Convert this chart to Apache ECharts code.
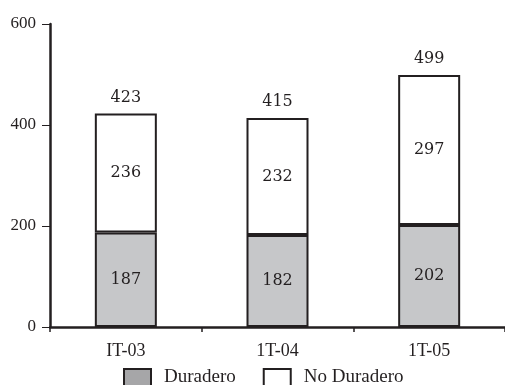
<!DOCTYPE html>
<html>
<head>
<meta charset="utf-8">
<script src="https://cdn.jsdelivr.net/npm/echarts@6/dist/echarts.min.js"></script>
<style>
  html, body { margin: 0; padding: 0; background: #ffffff; }
  #chart { width: 505px; height: 385px; }
</style>
</head>
<body>
<div id="chart"></div>
<script>
// Quarterly values, split into durable and non-durable
const categories = ['IT-03', '1T-04', '1T-05'];
const duradero = [187, 182, 202];
const noDuradero = [236, 232, 297];
// Published totals shown above each stack
const totals = [423, 415, 499];
const yTicks = [0, 200, 400, 600];

const ink = '#231f20';
const font = '"Liberation Serif", "DejaVu Serif", serif';
const valueFont = '"DejaVu Serif", "Liberation Serif", serif';

const chart = echarts.init(document.getElementById('chart'), null, { renderer: 'canvas' });

chart.setOption({
  animation: false,
  backgroundColor: '#ffffff',
  textStyle: { fontFamily: font, color: ink },
  grid: { left: 50, right: 0, top: 24, bottom: 58, containLabel: false },
  legend: {
    top: 368,
    left: 123,
    icon: 'rect',
    itemWidth: 27,
    itemHeight: 17,
    itemGap: 27,
    padding: 0,
    textStyle: { fontFamily: font, fontSize: 19, color: ink, padding: [0, 0, 0, 8] },
    data: [
      { name: 'Duradero', itemStyle: { color: '#a6a6a8', borderColor: ink, borderWidth: 2 } },
      { name: 'No Duradero', itemStyle: { color: '#ffffff', borderColor: ink, borderWidth: 2 } }
    ]
  },
  xAxis: {
    type: 'category',
    data: categories,
    axisLine: { lineStyle: { color: ink, width: 2.5 } },
    axisTick: { show: true, length: 5, lineStyle: { color: ink, width: 1.5 } },
    axisLabel: { fontFamily: font, fontSize: 18, color: ink, margin: 15 }
  },
  yAxis: {
    type: 'value',
    min: yTicks[0],
    max: yTicks[yTicks.length - 1],
    interval: yTicks[1] - yTicks[0],
    splitLine: { show: false },
    axisLine: { show: true, lineStyle: { color: ink, width: 2.5 } },
    axisTick: { show: true, length: 8, lineStyle: { color: ink, width: 1 } },
    axisLabel: { fontFamily: font, fontSize: 17, color: ink, margin: 14 }
  },
  series: [
    {
      name: 'Duradero',
      type: 'bar',
      stack: 'total',
      barWidth: 62,
      data: duradero,
      itemStyle: { color: '#c6c7c9', borderColor: ink, borderWidth: 2 },
      label: { show: true, position: 'inside', fontFamily: valueFont, fontSize: 16, color: ink }
    },
    {
      name: 'No Duradero',
      type: 'bar',
      stack: 'total',
      barWidth: 62,
      data: noDuradero,
      itemStyle: { color: '#ffffff', borderColor: ink, borderWidth: 2 },
      label: { show: true, position: 'inside', fontFamily: valueFont, fontSize: 16, color: ink }
    },
    {
      name: 'Total',
      type: 'bar',
      stack: 'total',
      barWidth: 62,
      data: totals.map(() => 0),
      itemStyle: { color: 'transparent', borderWidth: 0 },
      label: {
        show: true,
        position: 'top',
        distance: 8,
        fontFamily: valueFont,
        fontSize: 16,
        color: ink,
        formatter: (p) => String(totals[p.dataIndex])
      },
      silent: true
    }
  ]
});
</script>
</body>
</html>
